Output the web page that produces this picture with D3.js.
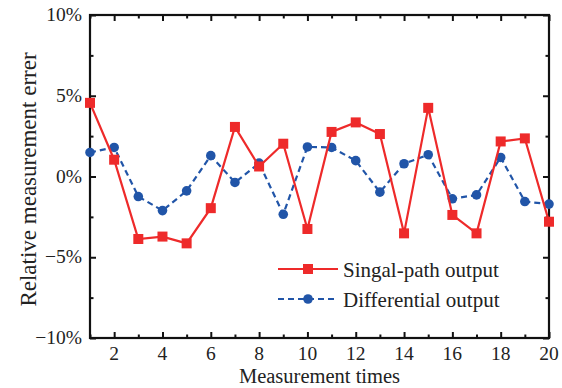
<!DOCTYPE html>
<html>
<head>
<meta charset="utf-8">
<script src="https://cdn.jsdelivr.net/npm/d3@7"></script>
<style>
  body { margin: 0; background: #fff; }
  text { font-family: "Liberation Serif", "Times New Roman", serif; fill: #222; }
</style>
</head>
<body>
<div id="plot"></div>
<script>
var times = d3.range(1, 21);
var singlePath = [4.56, 1.04, -3.87, -3.72, -4.14, -1.96, 3.07, 0.62, 2.03, -3.25,
                  2.76, 3.35, 2.63, -3.52, 4.25, -2.38, -3.52, 2.17, 2.36, -2.8];
var differential = [1.49, 1.8, -1.24, -2.11, -0.89, 1.29, -0.37, 0.83, -2.34, 1.83,
                    1.8, 0.98, -0.97, 0.79, 1.35, -1.38, -1.14, 1.18, -1.55, -1.71];
var xTicks = [2, 4, 6, 8, 10, 12, 14, 16, 18, 20];
var yTicks = [-10, -5, 0, 5, 10];
var seriesNames = ["Singal-path output", "Differential output"];

var svg = d3.select("div#plot")
            .append("svg")
            .attr("width", "562")
            .attr("height", "388");

var margin = {top: 15, right: 13, bottom: 50, left: 90};
var width = 562 - margin.left - margin.right;
var height = 388 - margin.top - margin.bottom;
var g = svg.append("g").attr("transform", `translate(${margin.left}, ${margin.top})`);

var xScale = d3.scaleLinear().domain([1, 20]).range([0, width]);
var yScale = d3.scaleLinear().domain([-10, 10]).range([height, 0]);

var minorX = d3.range(1, 21).filter(d => xTicks.indexOf(d) < 0);
var minorY = [-7.5, -2.5, 2.5, 7.5];

// ticks on all four sides, pointing inward
function ticks(axis, values, len) {
  axis.tickValues(values).tickSize(-len).tickFormat("");
  return axis;
}
g.append("g").attr("transform", `translate(0, ${height})`).call(ticks(d3.axisBottom(xScale), xTicks, 6));
g.append("g").attr("transform", `translate(0, ${height})`).call(ticks(d3.axisBottom(xScale), minorX, 3.5));
g.append("g").call(ticks(d3.axisTop(xScale), xTicks, 6));
g.append("g").call(ticks(d3.axisTop(xScale), minorX, 3.5));
g.append("g").call(ticks(d3.axisLeft(yScale), yTicks, 6));
g.append("g").call(ticks(d3.axisLeft(yScale), minorY, 3.5));
g.append("g").attr("transform", `translate(${width}, 0)`).call(ticks(d3.axisRight(yScale), yTicks, 6));
g.append("g").attr("transform", `translate(${width}, 0)`).call(ticks(d3.axisRight(yScale), minorY, 3.5));
g.selectAll(".domain").remove();
g.selectAll(".tick line").attr("stroke", "#111").attr("stroke-width", 2);

// frame
g.append("rect")
  .attr("width", width)
  .attr("height", height)
  .attr("fill", "none")
  .attr("stroke", "#111")
  .attr("stroke-width", 2.2);

// tick labels
g.selectAll(".xlab")
  .data(xTicks)
  .enter().append("text")
  .attr("x", d => xScale(d))
  .attr("y", height + 22)
  .attr("text-anchor", "middle")
  .style("font-size", "19.5px")
  .text(d => d);

g.selectAll(".ylab")
  .data(yTicks)
  .enter().append("text")
  .attr("x", -8)
  .attr("y", d => yScale(d) + 6)
  .attr("text-anchor", "end")
  .style("font-size", "19.5px")
  .text(d => (d < 0 ? "\u2212" + (-d) : d) + "%");

// series
var red = "#ee2a2a", blue = "#2155a8";
var line = d3.line().x((d, i) => xScale(times[i])).y(d => yScale(d));

g.append("path")
  .datum(differential)
  .attr("fill", "none")
  .attr("stroke", blue)
  .attr("stroke-width", 2.2)
  .attr("stroke-dasharray", "6 4")
  .attr("d", line);
g.selectAll(".dot")
  .data(differential)
  .enter().append("circle")
  .attr("cx", (d, i) => xScale(times[i]))
  .attr("cy", d => yScale(d))
  .attr("r", 4.8)
  .attr("fill", blue);

g.append("path")
  .datum(singlePath)
  .attr("fill", "none")
  .attr("stroke", red)
  .attr("stroke-width", 2.2)
  .attr("d", line);
g.selectAll(".sq")
  .data(singlePath)
  .enter().append("rect")
  .attr("x", (d, i) => xScale(times[i]) - 5)
  .attr("y", d => yScale(d) - 5)
  .attr("width", 10)
  .attr("height", 10)
  .attr("fill", red);

// legend
var legend = svg.append("g").attr("transform", "translate(278, 269)");
[0, 1].forEach(function(i) {
  var y = i * 30;
  var col = i == 0 ? red : blue;
  legend.append("line")
    .attr("x1", 0).attr("x2", 60)
    .attr("y1", y).attr("y2", y)
    .attr("stroke", col)
    .attr("stroke-width", 2.2)
    .attr("stroke-dasharray", i == 0 ? null : "6 4");
  if (i == 0) {
    legend.append("rect").attr("x", 25).attr("y", y - 5)
      .attr("width", 10).attr("height", 10).attr("fill", col);
  } else {
    legend.append("circle").attr("cx", 30).attr("cy", y).attr("r", 4.8).attr("fill", col);
  }
  legend.append("text")
    .attr("x", 65)
    .attr("y", y + 7.5)
    .style("font-size", "21px")
    .text(seriesNames[i]);
});

// axis titles
svg.append("text")
  .attr("x", margin.left + width / 2)
  .attr("y", 383)
  .attr("text-anchor", "middle")
  .style("font-size", "20.5px")
  .text("Measurement times");

svg.append("text")
  .attr("transform", `translate(36, ${margin.top + height / 2 + 3}) rotate(-90)`)
  .attr("text-anchor", "middle")
  .style("font-size", "23px")
  .text("Relative measurement errer");
</script>
</body>
</html>
